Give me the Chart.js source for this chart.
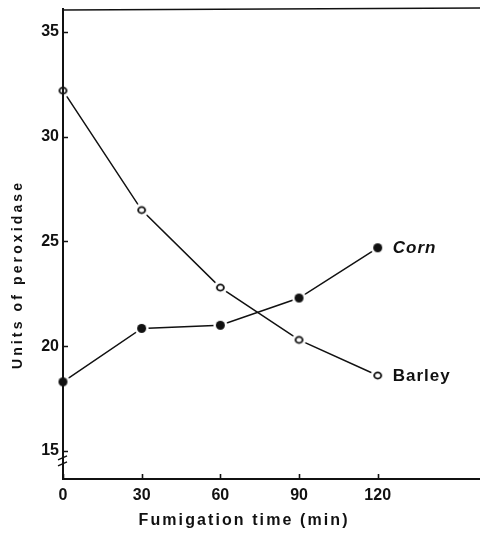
<!DOCTYPE html>
<html>
<head>
<meta charset="utf-8">
<script src="https://cdn.jsdelivr.net/npm/chart.js@4/dist/chart.umd.min.js"></script>
<style>
  html, body { margin: 0; padding: 0; background: #fff; }
  #wrap { width: 480px; height: 535px; position: relative; }
</style>
</head>
<body>
<div id="wrap"><canvas id="chart"></canvas></div>
<script>
// Peroxidase activity during fumigation
const times = [0, 30, 60, 90, 120];
const cornUnits = [18.3, 20.85, 21.0, 22.3, 24.7];
const barleyUnits = [32.2, 26.5, 22.8, 20.3, 18.6];
const seriesNames = ['Corn', 'Barley'];
const yTickValues = [15, 20, 25, 30, 35];
const xTickValues = [0, 30, 60, 90, 120];
const xTitle = 'Fumigation time (min)';
const yTitle = 'Units of peroxidase';

const FONT = '"Liberation Sans", Arial, sans-serif';
const INK = '#111';

// marker images: white halo so the joining lines stop short of each point
function makeMarker(filled) {
  const c = document.createElement('canvas');
  c.width = 15; c.height = 15;
  const g = c.getContext('2d');
  g.fillStyle = '#fff';
  g.beginPath(); g.arc(7.5, 7.5, 7, 0, Math.PI * 2); g.fill();
  if (filled) {
    g.fillStyle = INK;
    g.beginPath(); g.arc(7.5, 7.5, 4.5, 0, Math.PI * 2); g.fill();
  } else {
    g.strokeStyle = INK; g.lineWidth = 1.8;
    g.beginPath(); g.ellipse(7.5, 7.5, 3.5, 3.1, 0, 0, Math.PI * 2); g.stroke();
  }
  return c;
}

const toPoints = (vals) => times.map((t, i) => ({ x: t, y: vals[i] }));

// keep the plot area exactly where the layout padding puts it
function noScalePadding(s) {
  s.paddingTop = 0; s.paddingBottom = 0; s.paddingLeft = 0; s.paddingRight = 0;
}

// hand-drawn style frame: inward ticks, top rule, axis break, titles, end labels
const framePlugin = {
  id: 'frame',
  afterDatasetsDraw(chart) {
    const { ctx, chartArea: a, scales: { x, y } } = chart;
    ctx.save();
    ctx.strokeStyle = INK;
    ctx.lineCap = 'butt';

    // axis lines
    ctx.lineWidth = 2;
    ctx.beginPath();
    ctx.moveTo(a.left, a.top); ctx.lineTo(a.left, a.bottom);
    ctx.moveTo(a.left - 1, a.bottom); ctx.lineTo(a.right - 2, a.bottom);
    ctx.stroke();
    ctx.lineWidth = 1.6;
    ctx.beginPath();
    ctx.moveTo(a.left, a.top + 1); ctx.lineTo(a.right, a.top - 1);
    ctx.stroke();

    // inward tick marks
    ctx.lineWidth = 1.6;
    ctx.beginPath();
    yTickValues.forEach(v => {
      const py = Math.round(y.getPixelForValue(v)) + 0.5;
      ctx.moveTo(a.left, py); ctx.lineTo(a.left + 5, py);
    });
    xTickValues.forEach(v => {
      const px = Math.round(x.getPixelForValue(v)) + 0.5;
      ctx.moveTo(px, a.bottom); ctx.lineTo(px, a.bottom - 5);
    });
    ctx.stroke();

    // axis break below 15
    const b = y.getPixelForValue(15) + 6;
    ctx.lineWidth = 1.5;
    ctx.beginPath();
    ctx.moveTo(a.left - 5, b + 3); ctx.lineTo(a.left + 4, b - 1);
    ctx.moveTo(a.left - 5, b + 9); ctx.lineTo(a.left + 4, b + 5);
    ctx.stroke();

    ctx.fillStyle = INK;
    ctx.textBaseline = 'middle';

    // series labels beside the last points
    chart.data.datasets.forEach((ds, i) => {
      const meta = chart.getDatasetMeta(i);
      const last = meta.data[meta.data.length - 1];
      ctx.font = (i === 0 ? 'italic ' : '') + 'bold 17px ' + FONT;
      ctx.letterSpacing = '1px';
      ctx.textAlign = 'left';
      ctx.fillText(ds.label, last.x + 15, last.y + 1);
    });

    // axis titles
    function fitSpacing(text, target) {
      ctx.letterSpacing = '0px';
      const w = ctx.measureText(text).width;
      return Math.max(0, (target - w) / (text.length - 1));
    }
    ctx.font = 'bold 16px ' + FONT;
    let sp = fitSpacing(xTitle, 209);
    ctx.letterSpacing = sp.toFixed(2) + 'px';
    ctx.textAlign = 'center';
    ctx.fillText(xTitle, 243 + sp / 2, 521);

    ctx.font = 'bold 14px ' + FONT;
    sp = fitSpacing(yTitle, 186);
    ctx.letterSpacing = sp.toFixed(2) + 'px';
    ctx.translate(18, 276);
    ctx.rotate(-Math.PI / 2);
    ctx.fillText(yTitle, sp / 2, 0);
    ctx.restore();
  }
};

new Chart(document.getElementById('chart'), {
  type: 'line',
  data: {
    datasets: [
      {
        label: seriesNames[0],
        data: toPoints(cornUnits),
        borderColor: INK,
        borderWidth: 1.5,
        pointStyle: makeMarker(true),
        pointRadius: 7,
        tension: 0,
        clip: false
      },
      {
        label: seriesNames[1],
        data: toPoints(barleyUnits),
        borderColor: INK,
        borderWidth: 1.5,
        pointStyle: makeMarker(false),
        pointRadius: 7,
        tension: 0,
        clip: false
      }
    ]
  },
  options: {
    responsive: true,
    maintainAspectRatio: false,
    animation: false,
    devicePixelRatio: 1,
    layout: { autoPadding: false, padding: { top: 9, right: 0, left: 0, bottom: 0 } },
    plugins: {
      legend: { display: false },
      tooltip: { enabled: false },
      title: { display: false }
    },
    scales: {
      x: {
        type: 'linear',
        min: 0,
        max: 159,
        grid: { display: false, drawTicks: false },
        border: { display: true, color: INK, width: 2 },
        afterBuildTicks: (s) => { s.ticks = xTickValues.map(v => ({ value: v })); },
        afterFit: (s) => { s.height = 56; noScalePadding(s); },
        ticks: {
          padding: 7,
          color: INK,
          font: { family: FONT, size: 16, weight: 'bold' },
          maxRotation: 0,
          autoSkip: false
        }
      },
      y: {
        type: 'linear',
        min: 13.66,
        max: 36.1,
        grid: { display: false, drawTicks: false },
        border: { display: true, color: INK, width: 2 },
        afterBuildTicks: (s) => { s.ticks = yTickValues.map(v => ({ value: v })); },
        afterFit: (s) => { s.width = 63; noScalePadding(s); },
        ticks: {
          padding: 4,
          color: INK,
          font: { family: FONT, size: 16, weight: 'bold' },
          autoSkip: false
        }
      }
    }
  },
  plugins: [framePlugin]
});
</script>
</body>
</html>
